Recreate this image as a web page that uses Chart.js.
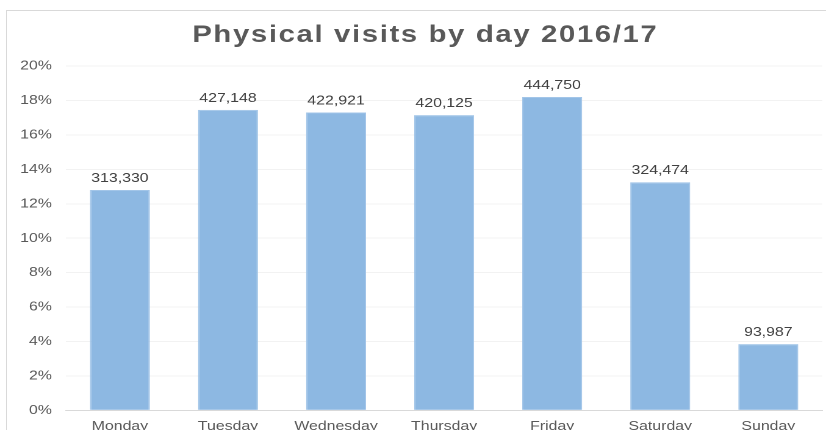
<!DOCTYPE html>
<html>
<head>
<meta charset="utf-8">
<script src="https://cdn.jsdelivr.net/npm/chart.js@4.4.1/dist/chart.umd.min.js"></script>
<style>
  html, body { margin: 0; padding: 0; background: #fff; overflow: hidden; }
  #quadro { position: absolute; left: 0; top: 0; width: 826px; height: 430px; overflow: hidden; }
  #moldura { position: absolute; left: 6px; top: 10px; width: 836px; height: 460px; border: 1px solid #d9d9d9; }
  #grafico { position: absolute; left: 0; top: 0; }
</style>
</head>
<body>
<div id="quadro">
  <div id="moldura"></div>
  <!-- o original está esticado na horizontal, por isso 677 de largura lógica mostrados em 826px -->
  <canvas id="grafico" width="677" height="442" style="width:826px;height:442px"></canvas>
</div>
<script>
var dias = ['Monday', 'Tuesday', 'Wednesday', 'Thursday', 'Friday', 'Saturday', 'Sunday'];
var visitas = [313330, 427148, 422921, 420125, 444750, 324474, 93987];
var percentuais = [12.8, 17.45, 17.3, 17.15, 18.2, 13.25, 3.85];
var ticksY = [0, 2, 4, 6, 8, 10, 12, 14, 16, 18, 20];
var titulo = 'Physical visits by day 2016/17';

var fonte = '"Liberation Sans", Arial, sans-serif';
var esticar = 826 / 677;

var rotulosBarras = {
  id: 'rotulosBarras',
  afterDatasetsDraw: function(chart) {
    var ctx = chart.ctx;
    var meta = chart.getDatasetMeta(0);
    ctx.save();
    ctx.font = '13px ' + fonte;
    ctx.fillStyle = '#404040';
    ctx.textAlign = 'center';
    ctx.textBaseline = 'alphabetic';
    meta.data.forEach(function(barra, i) {
      ctx.fillText(visitas[i].toLocaleString('en-US'), barra.x, barra.y - 8);
    });
    ctx.restore();
  }
};

// titulo com espaçamento entre letras, centrado na moldura
var tituloEspacado = {
  id: 'tituloEspacado',
  afterDraw: function(chart) {
    var ctx = chart.ctx;
    var espaco = 1.35;
    ctx.save();
    ctx.font = 'bold 24px ' + fonte;
    ctx.fillStyle = '#595959';
    ctx.textBaseline = 'alphabetic';
    ctx.textAlign = 'left';
    ctx.letterSpacing = espaco + 'px';
    var largura = ctx.measureText(titulo).width - espaco;
    var centro = 424.5 / esticar;
    ctx.fillText(titulo, centro - largura / 2, 42);
    ctx.restore();
  }
};

var grafico = new Chart(document.getElementById('grafico').getContext('2d'), {
  type: 'bar',
  data: {
    labels: dias,
    datasets: [{
      label: 'Physical visits',
      data: percentuais,
      backgroundColor: '#8db8e2',
      borderColor: '#a2c5e8',
      borderWidth: 1,
      categoryPercentage: 1,
      barPercentage: 0.555
    }]
  },
  options: {
    responsive: false,
    animation: false,
    devicePixelRatio: 2,
    layout: { padding: { top: 66, right: 3, bottom: 0, left: 0 } },
    plugins: {
      legend: { display: false },
      tooltip: { enabled: false },
      title: { display: false }
    },
    scales: {
      x: {
        grid: { display: false, drawTicks: false },
        border: { color: '#d9d9d9' },
        ticks: {
          color: '#595959',
          font: { family: fonte, size: 13 },
          padding: 8,
          maxRotation: 0
        }
      },
      y: {
        min: 0,
        max: 20,
        afterFit: function(escala) { escala.width = 54; },
        afterBuildTicks: function(escala) {
          escala.ticks = ticksY.map(function(v) { return { value: v }; });
        },
        grid: { color: '#f2f2f2', drawTicks: false },
        border: { display: false },
        ticks: {
          color: '#595959',
          font: { family: fonte, size: 13 },
          padding: 11.5,
          callback: function(v) { return v + '%'; }
        }
      }
    }
  },
  plugins: [rotulosBarras, tituloEspacado]
});
</script>
</body>
</html>
